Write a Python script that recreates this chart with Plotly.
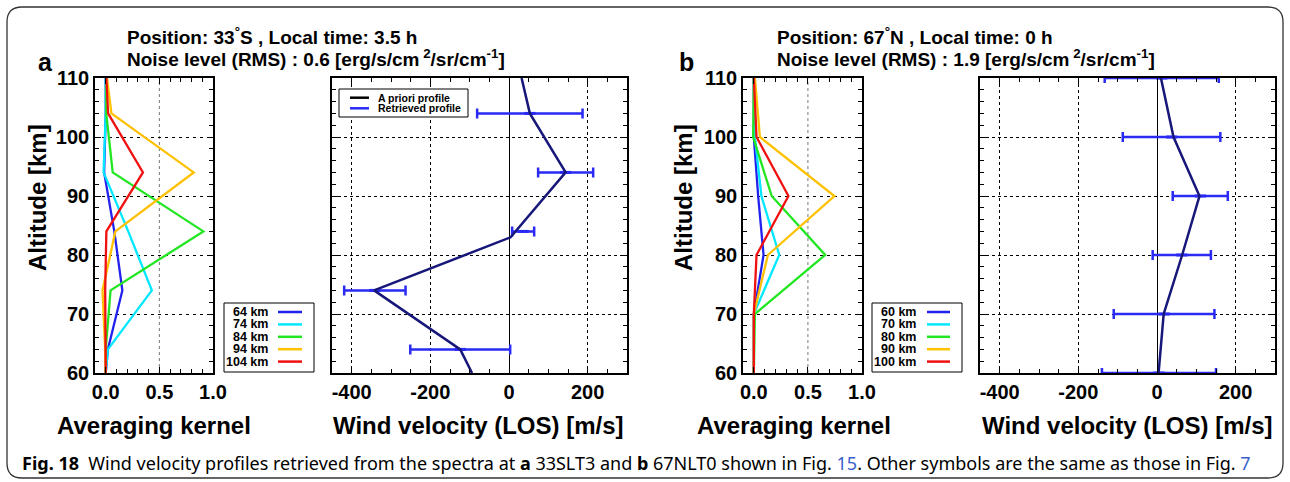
import plotly.graph_objects as go

W, H = 1290, 482

# ---------------- data ----------------
# Panel a : 33S, LT 3.5 h
alt_a = [60, 64, 74, 84, 94, 104, 110]
kernel_labels_a = ["64 km", "74 km", "84 km", "94 km", "104 km"]
k64_a = [0.0, 0.02, 0.155, 0.08, -0.015, 0.0, 0.0]
k74_a = [0.0, 0.02, 0.43, 0.21, -0.02, 0.0, 0.0]
k84_a = [0.0, 0.0, 0.045, 0.91, 0.065, 0.005, 0.005]
k94_a = [0.0, -0.005, -0.03, 0.09, 0.82, 0.053, 0.012]
k104_a = [0.0, 0.0, -0.005, 0.006, 0.347, 0.022, 0.006]

apriori_alt_a = [60, 64, 74, 83, 94, 104, 110]
apriori_a = [-94, -124, -343, 4, 144, 53, 32]
retr_alt_a = [64, 74, 84, 94, 104]
retr_a = [-124, -341, 36, 144, 53]
err_a = [127, 78, 28, 70, 134]

# Panel b : 67N, LT 0 h
alt_b = [60, 70, 80, 90, 100, 110]
kernel_labels_b = ["60 km", "70 km", "80 km", "90 km", "100 km"]
k60_b = [0.0, 0.0, 0.09, 0.04, 0.0, 0.0]
k70_b = [0.0, 0.0, 0.235, 0.07, 0.01, 0.0]
k80_b = [0.0, 0.01, 0.66, 0.165, -0.006, 0.0]
k90_b = [0.0, 0.0, 0.13, 0.745, 0.056, 0.01]
k100_b = [0.0, 0.0, 0.025, 0.32, 0.025, 0.0]

apriori_b = [4, 17, 64, 108, 42, 10]
retr_b = [5, 18, 63, 110, 37, 12]
err_b = [145, 128, 74, 70, 124, 145]

alt_ticks = [60, 70, 80, 90, 100, 110]
kernel_ticks = [0.0, 0.5, 1.0]
kernel_ticktext = ["0.0", "0.5", "1.0"]
wind_ticks = [-400, -200, 0, 200]
wind_ticktext = ["-400", "-200", "0", "200"]

kernel_colors = ["#2222ee", "#00e8ff", "#22e622", "#ffc000", "#f01010"]
ERR_BLUE = "#2a2af5"
NAVY = "#17177a"

FONT = "Liberation Sans, Arial, sans-serif"


def px(x):
    return x / W


def py(y):
    return 1 - y / H


fig = go.Figure()

# ---------------- kernel traces ----------------
for vals, col in zip([k64_a, k74_a, k84_a, k94_a, k104_a], kernel_colors):
    fig.add_trace(go.Scatter(x=vals, y=alt_a, mode="lines", line=dict(color=col, width=2.3),
                             xaxis="x", yaxis="y", showlegend=False))
for vals, col in zip([k60_b, k70_b, k80_b, k90_b, k100_b], kernel_colors):
    fig.add_trace(go.Scatter(x=vals, y=alt_b, mode="lines", line=dict(color=col, width=2.3),
                             xaxis="x3", yaxis="y3", showlegend=False))

# ---------------- wind traces ----------------
def wind(xa, ya, apr_alt, apr, r_alt, r, e):
    fig.add_trace(go.Scatter(x=r, y=r_alt, mode="markers",
                             marker=dict(symbol="line-ew-open", size=8, color=ERR_BLUE,
                                         line=dict(color=ERR_BLUE, width=3)),
                             error_x=dict(type="data", array=e, color=ERR_BLUE, thickness=2.5, width=5),
                             xaxis=xa, yaxis=ya, showlegend=False))
    fig.add_trace(go.Scatter(x=apr, y=apr_alt, mode="lines", line=dict(color=NAVY, width=2.5),
                             xaxis=xa, yaxis=ya, showlegend=False))


wind("x2", "y2", apriori_alt_a, apriori_a, retr_alt_a, retr_a, err_a)
wind("x4", "y4", alt_b, apriori_b, alt_b, retr_b, err_b)

# ---------------- axes ----------------
ydom = [py(373), py(78)]
tickfont = dict(family=FONT, size=20, color="black", weight="bold")


def yax(anchor, labels, dash):
    return dict(domain=ydom, anchor=anchor, range=[60, 110], tickvals=alt_ticks,
                ticktext=[str(v) for v in alt_ticks], automargin=False,
                showticklabels=labels, tickfont=tickfont,
                ticks="inside", ticklen=6, tickwidth=1, tickcolor="black",
                minor=dict(ticks="inside", ticklen=4, dtick=2, tick0=60, tickcolor="black", showgrid=False),
                showline=True, linecolor="black", linewidth=1.6, mirror="ticks",
                showgrid=True, gridcolor="black", gridwidth=1, griddash=dash,
                zeroline=False, fixedrange=True)


def kx(anchor, x0, x1):
    return dict(domain=[px(x0), px(x1)], anchor=anchor, range=[-0.1, 1.0], automargin=False,
                tickvals=kernel_ticks, ticktext=kernel_ticktext, tickfont=tickfont,
                ticks="inside", ticklen=6, tickwidth=1, tickcolor="black",
                minor=dict(ticks="inside", ticklen=4, dtick=0.1, tick0=0, tickcolor="black", showgrid=False),
                showline=True, linecolor="black", linewidth=1.6, mirror="ticks",
                showgrid=False, zeroline=False, fixedrange=True)


def wx(anchor, x0, x1):
    return dict(domain=[px(x0), px(x1)], anchor=anchor, range=[-450, 300], automargin=False,
                tickvals=wind_ticks, ticktext=wind_ticktext, tickfont=tickfont,
                ticks="inside", ticklen=6, tickwidth=1, tickcolor="black",
                minor=dict(ticks="inside", ticklen=4, dtick=50, tick0=0, tickcolor="black", showgrid=False),
                showline=True, linecolor="black", linewidth=1.6, mirror="ticks",
                showgrid=True, gridcolor="black", gridwidth=1, griddash="dot",
                zeroline=True, zerolinecolor="black", zerolinewidth=1.2, fixedrange=True)


fig.update_layout(
    width=W, height=H, autosize=False,
    margin=dict(l=0, r=0, t=0, b=0, pad=0, autoexpand=False),
    paper_bgcolor="white", plot_bgcolor="white",
    showlegend=False,
    xaxis=kx("y", 95, 213),
    yaxis=yax("x", True, "3px,4px"),
    xaxis2=wx("y2", 332, 627),
    yaxis2=yax("x2", False, "dot"),
    xaxis3=kx("y3", 743, 862),
    yaxis3=yax("x3", True, "3px,4px"),
    xaxis4=wx("y4", 980, 1275),
    yaxis4=yax("x4", False, "dot"),
)

shapes = []
annotations = []

# kernel vertical gridline at 0.5
for xr, yr in [("x", "y"), ("x3", "y3")]:
    shapes.append(dict(type="line", xref=xr, yref=yr, x0=0.5, x1=0.5, y0=60, y1=110,
                       line=dict(color="#777777", width=1, dash="dot"), layer="below"))


def text(x, y, s, size, xanchor="center", yanchor="middle", angle=0, family=FONT, color="black"):
    annotations.append(dict(x=px(x), y=py(y), xref="paper", yref="paper", text=s, showarrow=False,
                            xanchor=xanchor, yanchor=yanchor, textangle=angle,
                            font=dict(family=family, size=size, color=color)))


# titles
text(125, 36, "<b>Position: 33<sup>°</sup>S , Local time: 3.5 h</b>", 19, "left")
text(125, 58, "<b>Noise level (RMS) : 0.6 [erg/s/cm<sup> 2</sup>/sr/cm<sup>-1</sup>]</b>", 19, "left")
text(775, 36, "<b>Position: 67<sup>°</sup>N , Local time: 0 h</b>", 19, "left")
text(775, 58, "<b>Noise level (RMS) : 1.9 [erg/s/cm<sup> 2</sup>/sr/cm<sup>-1</sup>]</b>", 19, "left")
text(45, 62, "<b>a</b>", 25)
text(686, 62, "<b>b</b>", 25)

# axis titles
text(37, 198, "<b>Altitude [km]</b>", 24, angle=-90)
text(683, 198, "<b>Altitude [km]</b>", 24, angle=-90)
text(154, 425, "<b>Averaging kernel</b>", 24)
text(794, 425, "<b>Averaging kernel</b>", 24)
text(478, 425, "<b>Wind velocity (LOS) [m/s]</b>", 24)
text(1127, 425, "<b>Wind velocity (LOS) [m/s]</b>", 24)

# kernel legends
rows = [312, 324.4, 336.8, 349.2, 361.6]
for (bx0, bx1, tx, lx0, lx1, labels) in [(224, 314, 270, 278, 302, kernel_labels_a),
                                          (872, 962, 918, 927, 950, kernel_labels_b)]:
    shapes.append(dict(type="rect", xref="paper", yref="paper", x0=px(bx0), x1=px(bx1),
                       y0=py(372), y1=py(303), line=dict(color="black", width=1), fillcolor="white"))
    for lab, yy, col in zip(labels, rows, kernel_colors):
        text(tx, yy, "<b>%s</b>" % lab, 12.5, "right")
        shapes.append(dict(type="line", xref="paper", yref="paper", x0=px(lx0), x1=px(lx1),
                           y0=py(yy), y1=py(yy), line=dict(color=col, width=2.5)))

# wind legend (panel a)
shapes.append(dict(type="rect", xref="paper", yref="paper", x0=px(339), x1=px(468),
                   y0=py(117), y1=py(89), line=dict(color="black", width=1), fillcolor="white"))
for lab, yy, col in [("A priori profile", 97.7, "black"), ("Retrieved profile", 108.3, ERR_BLUE)]:
    shapes.append(dict(type="line", xref="paper", yref="paper", x0=px(350), x1=px(369),
                       y0=py(yy), y1=py(yy), line=dict(color=col, width=2.5)))
    text(376, yy, "<b>%s</b>" % lab, 10.5, "left")

# outer rounded frame
r = 15
x0, y0, x1, y1 = 7, 7, 1283, 478
path = ("M {a},{b} L {c},{b} Q {d},{b} {d},{e} L {d},{f} Q {d},{g} {c},{g} "
        "L {a},{g} Q {h},{g} {h},{f} L {h},{e} Q {h},{b} {a},{b} Z").format(
    a=px(x0 + r), b=py(y0), c=px(x1 - r), d=px(x1), e=py(y0 + r), f=py(y1 - r), g=py(y1), h=px(x0))
shapes.append(dict(type="path", xref="paper", yref="paper", path=path,
                   line=dict(color="#333333", width=1.3)))

# caption
LINK = "#3a5fcd"
caption = ("<b>Fig. 18</b>  Wind velocity profiles retrieved from the spectra at <b>a</b> 33SLT3 and "
           "<b>b</b> 67NLT0 shown in Fig. <span style='color:%s'>15</span>. Other symbols are the same "
           "as those in Fig. <span style='color:%s'>7</span>") % (LINK, LINK)
text(20, 463, caption, 18, "left", family="Noto Sans, Open Sans, sans-serif")

fig.update_layout(shapes=shapes, annotations=annotations)
fig.write_html("out.html")
